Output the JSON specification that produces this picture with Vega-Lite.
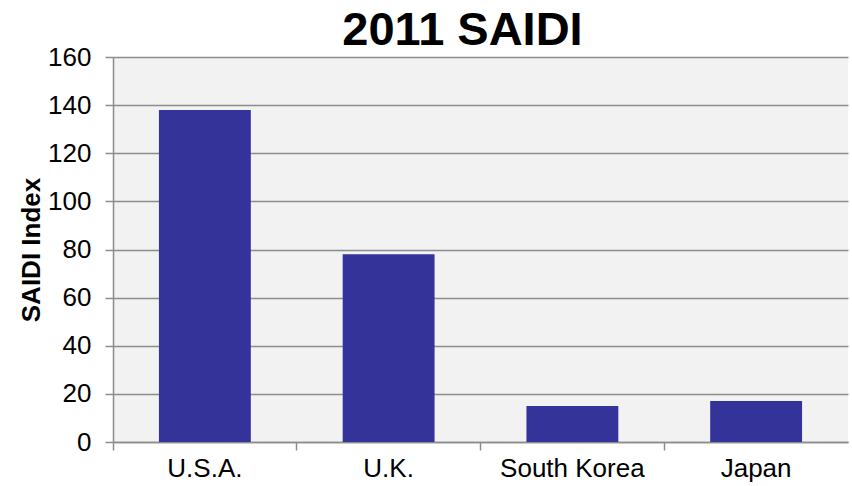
{
  "$schema": "https://vega.github.io/schema/vega-lite/v6.json",
  "width": 735,
  "height": 385,
  "autosize": {"type": "none"},
  "padding": {"left": 113, "top": 57, "right": 4, "bottom": 44},
  "background": "white",
  "config": {
    "font": "Liberation Sans",
    "view": {"fill": "#F2F2F2", "stroke": null},
    "axis": {"labelFont": "Liberation Sans", "titleFont": "Liberation Sans"}
  },
  "title": {
    "text": "2011 SAIDI",
    "fontSize": 47,
    "fontWeight": "bold",
    "font": "Liberation Sans",
    "color": "#000000",
    "anchor": "middle",
    "baseline": "bottom",
    "offset": -58,
    "dx": -18
  },
  "data": {
    "values": [
      {"country": "U.S.A.", "saidi": 138},
      {"country": "U.K.", "saidi": 78},
      {"country": "South Korea", "saidi": 15},
      {"country": "Japan", "saidi": 17}
    ]
  },
  "encoding": {
    "x": {
      "field": "country",
      "type": "nominal",
      "sort": null,
      "scale": {"paddingInner": 0, "paddingOuter": 0}
    },
    "y": {
      "field": "saidi",
      "type": "quantitative",
      "scale": {"domain": [0, 160], "nice": false},
      "axis": {
        "title": "SAIDI Index",
        "titleFontSize": 26,
        "titleFontWeight": "bold",
        "titleColor": "#000000",
        "titlePadding": 3,
        "values": [0, 20, 40, 60, 80, 100, 120, 140, 160],
        "labelFontSize": 26,
        "labelColor": "#000000",
        "labelPadding": 14,
        "tickSize": 8,
        "tickColor": "#8C8C8C",
        "tickWidth": 1.5,
        "domainColor": "#8C8C8C",
        "domainWidth": 1.5,
        "grid": true,
        "gridColor": "#8C8C8C",
        "gridWidth": 1.5
      }
    }
  },
  "layer": [
    {
      "mark": {"type": "bar", "color": "#333399", "width": {"band": 0.5}},
      "encoding": {
        "x": {
          "field": "country",
          "type": "nominal",
          "sort": null,
          "axis": {
            "orient": "bottom",
            "title": null,
            "labelAngle": 0,
            "labelFontSize": 26,
            "labelColor": "#000000",
            "labelPadding": 13,
            "ticks": false,
            "tickSize": 8,
            "domain": false,
            "grid": false
          }
        }
      }
    },
    {
      "mark": {"type": "bar", "opacity": 0},
      "encoding": {
        "x": {
          "field": "country",
          "type": "nominal",
          "sort": null,
          "axis": {
            "orient": "bottom",
            "title": null,
            "labels": false,
            "ticks": true,
            "bandPosition": 0,
            "tickSize": 8,
            "tickColor": "#8C8C8C",
            "tickWidth": 1.5,
            "domainColor": "#8C8C8C",
            "domainWidth": 1.5,
            "grid": false
          }
        }
      }
    }
  ],
  "resolve": {"axis": {"x": "independent"}}
}
